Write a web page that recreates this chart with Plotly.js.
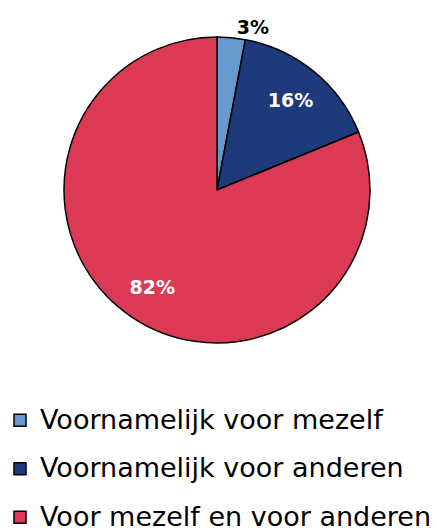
<!DOCTYPE html>
<html>
<head>
<meta charset="utf-8">
<script src="https://cdn.plot.ly/plotly-3.0.1.min.js"></script>
<style>
  html, body { margin: 0; padding: 0; background: #ffffff; }
  #chart { width: 436px; height: 532px; }
</style>
</head>
<body>
<div id="chart"></div>
<script>
// --- data ---
const labels = ['Voornamelijk voor mezelf', 'Voornamelijk voor anderen', 'Voor mezelf en voor anderen'];
const values = [3, 16, 82];
const colors = ['#6699cc', '#1f3a7b', '#dc3955'];
const textPos = ['outside', 'inside', 'inside'];

// legend entries: big legend font gives the row spacing, span sets the visible size
const legendLabels = labels.map(l => '<span style="font-size:27px;baseline-shift:5px">' + l + '</span>');

const pieDomain = { x: [0.1468, 0.8486], y: [0.3553, 0.9305] };

const data = [
    // the slices
    {
        type: 'pie',
        labels: legendLabels,
        values: values,
        textinfo: 'none',
        sort: false,
        direction: 'clockwise',
        rotation: 0,
        marker: { colors: colors, line: { color: '#000000', width: 1.5 } },
        domain: pieDomain,
        hoverinfo: 'none'
    },
    // same slices as a see-through ring, only to carry the % labels further out
    {
        type: 'pie',
        labels: legendLabels,
        values: values,
        hole: 0.52,
        text: values.map(v => v + '%'),
        texttemplate: '%{text}',
        textposition: textPos,
        insidetextorientation: 'horizontal',
        sort: false,
        direction: 'clockwise',
        rotation: 0,
        showlegend: false,
        marker: { colors: colors.map(() => 'rgba(0,0,0,0)'), line: { width: 0 } },
        textfont: { family: 'DejaVu Sans', size: 19, weight: 'bold' },
        insidetextfont: { color: '#ffffff' },
        outsidetextfont: { color: '#000000' },
        domain: pieDomain,
        hoverinfo: 'none'
    }
];

const layout = {
    width: 436,
    height: 532,
    margin: { l: 0, r: 0, t: 0, b: 0, autoexpand: false },
    paper_bgcolor: '#ffffff',
    showlegend: true,
    legend: {
        orientation: 'v',
        x: 0,
        xanchor: 'left',
        y: 0.265,
        yanchor: 'top',
        font: { family: 'DejaVu Sans', size: 35, color: '#000000' },
        bgcolor: 'rgba(0,0,0,0)'
    }
};

Plotly.newPlot('chart', data, layout, { displayModeBar: false, staticPlot: true });
</script>
</body>
</html>
